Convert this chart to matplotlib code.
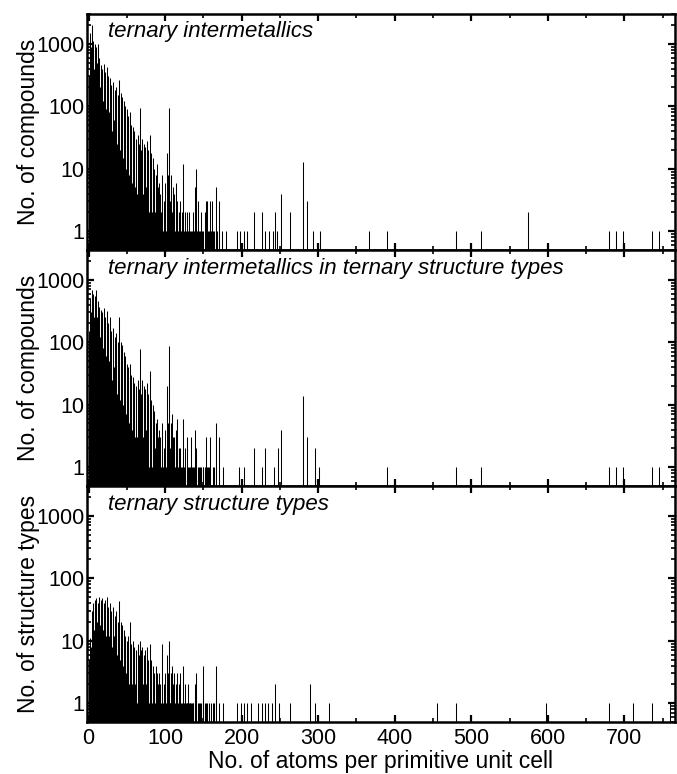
import numpy as np
import matplotlib
matplotlib.use('Agg')
import matplotlib.pyplot as plt
from matplotlib.ticker import FixedLocator, MultipleLocator, LogLocator, NullFormatter

plt.rcParams['font.family'] = ['Liberation Sans', 'DejaVu Sans']

# counts for 1..135 atoms per cell (one value per integer)
ti_dense = [300, 1500, 900, 2000, 800, 1100, 400, 1000, 350, 900,
            500, 1000, 250, 600, 200, 450, 150, 400, 120, 480,
            100, 350, 90, 430, 60, 300, 80, 280, 50, 220,
            40, 240, 60, 180, 30, 200, 25, 150, 40, 260,
            20, 160, 30, 140, 15, 120, 20, 100, 10, 90,
            12, 70, 8, 80, 10, 50, 6, 46, 8, 40,
            5, 30, 4, 35, 6, 25, 93, 20, 3, 30,
            4, 25, 2, 22, 5, 28, 3, 20, 2, 34,
            3, 18, 2, 15, 1, 10, 2, 8, 1, 12,
            5, 6, 1, 4, 2, 8, 1, 3, 1, 6,
            1, 18, 2, 8, 93, 3, 1, 8, 2, 5,
            1, 4, 1, 6, 2, 3, 1, 2, 1, 3,
            1, 2, 12, 1, 1, 2, 1, 2, 1, 1,
            2, 1, 0, 1, 1]
tis_dense = [150, 500, 300, 680, 350, 600, 250, 550, 200, 680,
             250, 450, 150, 360, 120, 330, 100, 300, 80, 350,
             70, 250, 60, 320, 40, 200, 50, 250, 35, 150,
             25, 170, 40, 120, 20, 140, 15, 100, 25, 250,
             12, 100, 20, 90, 10, 70, 12, 60, 7, 45,
             8, 40, 5, 45, 6, 30, 4, 28, 5, 22,
             3, 20, 3, 25, 4, 18, 79, 15, 2, 25,
             3, 20, 2, 18, 4, 22, 2, 15, 1, 35,
             2, 12, 1, 10, 1, 8, 2, 5, 1, 6,
             3, 4, 1, 3, 1, 5, 1, 2, 1, 4,
             1, 20, 1, 5, 88, 2, 1, 5, 7, 3,
             1, 3, 1, 4, 6, 2, 1, 2, 1, 2,
             1, 1, 6, 1, 1, 2, 0, 3, 1, 1,
             1, 1, 0, 3, 1]
st_dense = [5, 11, 8, 30, 10, 40, 15, 45, 12, 49,
            20, 40, 15, 50, 18, 45, 20, 48, 15, 40,
            18, 45, 12, 50, 15, 35, 12, 40, 10, 30,
            8, 35, 12, 25, 8, 30, 6, 20, 10, 44,
            5, 20, 8, 18, 4, 15, 6, 12, 3, 10,
            4, 12, 2, 20, 3, 9, 2, 10, 3, 8,
            2, 7, 1, 9, 2, 6, 10, 7, 1, 8,
            2, 6, 1, 7, 2, 8, 1, 5, 1, 9,
            1, 5, 1, 4, 1, 3, 1, 4, 1, 3,
            2, 3, 1, 2, 1, 9, 1, 2, 1, 3,
            1, 6, 1, 3, 10, 1, 1, 3, 4, 2,
            1, 3, 1, 2, 3, 1, 1, 2, 1, 3,
            1, 1, 4, 1, 1, 2, 1, 1, 1, 2,
            1, 1, 1, 1, 1]

# sparse tail: atoms per cell and counts
ti_tail_x = [136, 137, 138, 139, 140, 141, 142, 143, 144, 146, 147, 148, 150, 152, 153, 154, 155, 156, 157,
             159, 160, 161, 162, 164, 166, 167, 168, 170, 171, 174, 180,
             194, 198, 203, 207, 216, 227, 231, 236, 241, 243, 246, 252, 263, 280, 285, 293, 302,
             366, 390, 480, 513, 574, 680, 689, 698, 736, 745]
ti_tail_n = [2, 1, 1, 5, 1, 10, 1, 3, 1, 1, 2, 1, 1, 2, 3, 1, 3, 1, 1,
             3, 1, 3, 1, 1, 1, 5, 1, 1, 3, 1, 1,
             1, 1, 1, 1, 2, 2, 1, 1, 1, 2, 1, 4, 2, 13, 3, 1, 1,
             1, 1, 1, 1, 2, 1, 1, 1, 1, 1]
tis_tail_x = [136, 138, 139, 140, 141, 143, 144, 146, 147, 149, 150, 152, 153, 155, 156, 158, 159, 162,
              164, 167, 171, 176,
              196, 203, 216, 227, 231, 242, 248, 252, 280, 285, 296, 301,
              390, 480, 513, 680, 689, 698, 736, 745]
tis_tail_n = [1, 1, 4, 1, 2, 1, 1, 1, 1, 1, 1, 1, 3, 1, 1, 1, 3, 1,
              1, 5, 3, 1,
              1, 1, 2, 1, 2, 1, 2, 4, 14, 3, 2, 1,
              1, 1, 1, 1, 1, 1, 1, 1]
st_tail_x = [136, 137, 139, 141, 143, 144, 146, 147, 149, 150, 152, 154, 155, 158, 160, 162, 164, 167, 171, 175,
             194, 199, 203, 207, 212, 221, 226, 230, 235, 239, 243, 249, 263, 289, 296, 314,
             455, 480, 597, 680, 711, 736, 760]
st_tail_n = [1, 1, 2, 3, 1, 1, 1, 1, 4, 1, 1, 1, 1, 1, 1, 1, 1, 4, 1, 1,
             1, 1, 1, 1, 1, 1, 1, 1, 1, 1, 2, 1, 1, 2, 1, 1,
             1, 1, 1, 1, 1, 1, 1]

titles = ['ternary intermetallics',
          'ternary intermetallics in ternary structure types',
          'ternary structure types']
ylabels = ['No. of compounds', 'No. of compounds', 'No. of structure types']
yticks = [1, 10, 100, 1000]

panels = [(ti_dense, ti_tail_x, ti_tail_n),
          (tis_dense, tis_tail_x, tis_tail_n),
          (st_dense, st_tail_x, st_tail_n)]

fig, axes = plt.subplots(3, 1, figsize=(6.77, 7.74), dpi=100, sharex=True)
fig.subplots_adjust(left=0.1285, right=0.997, top=0.982, bottom=0.0672, hspace=0)

for ax, (dense, tx, tn), title, ylab in zip(axes, panels, titles, ylabels):
    x = np.concatenate([np.arange(1, len(dense) + 1), tx])
    n = np.concatenate([dense, tn]).astype(float)
    keep = n > 0
    ax.vlines(x[keep], 0.3, n[keep], colors='black', linewidth=0.75)
    ax.set_yscale('log')
    ax.set_ylim(0.5, 3000)
    ax.set_xlim(-2, 766)
    ax.yaxis.set_major_locator(FixedLocator(yticks))
    ax.set_yticklabels([str(t) for t in yticks])
    ax.yaxis.set_minor_locator(LogLocator(base=10, subs=np.arange(2, 10)))
    ax.yaxis.set_minor_formatter(NullFormatter())
    ax.xaxis.set_major_locator(MultipleLocator(100))
    ax.xaxis.set_minor_locator(MultipleLocator(50))
    ax.tick_params(which='both', direction='in', top=True, right=True, labelsize=15.5)
    ax.tick_params(axis='y', pad=2)
    ax.tick_params(axis='x', pad=4)
    ax.tick_params(which='major', length=5, width=1.6)
    ax.tick_params(which='minor', length=3, width=1.2)
    for s in ax.spines.values():
        s.set_linewidth(1.8)
    ax.set_ylabel(ylab, fontsize=16.5, labelpad=-3)
    ax.text(0.035, 0.968, title, transform=ax.transAxes, ha='left', va='top',
            fontsize=16, style='italic')

axes[-1].set_xlabel('No. of atoms per primitive unit cell', fontsize=16.5, labelpad=1)
fig.align_ylabels(axes)

plt.savefig('out.png', dpi=100)
